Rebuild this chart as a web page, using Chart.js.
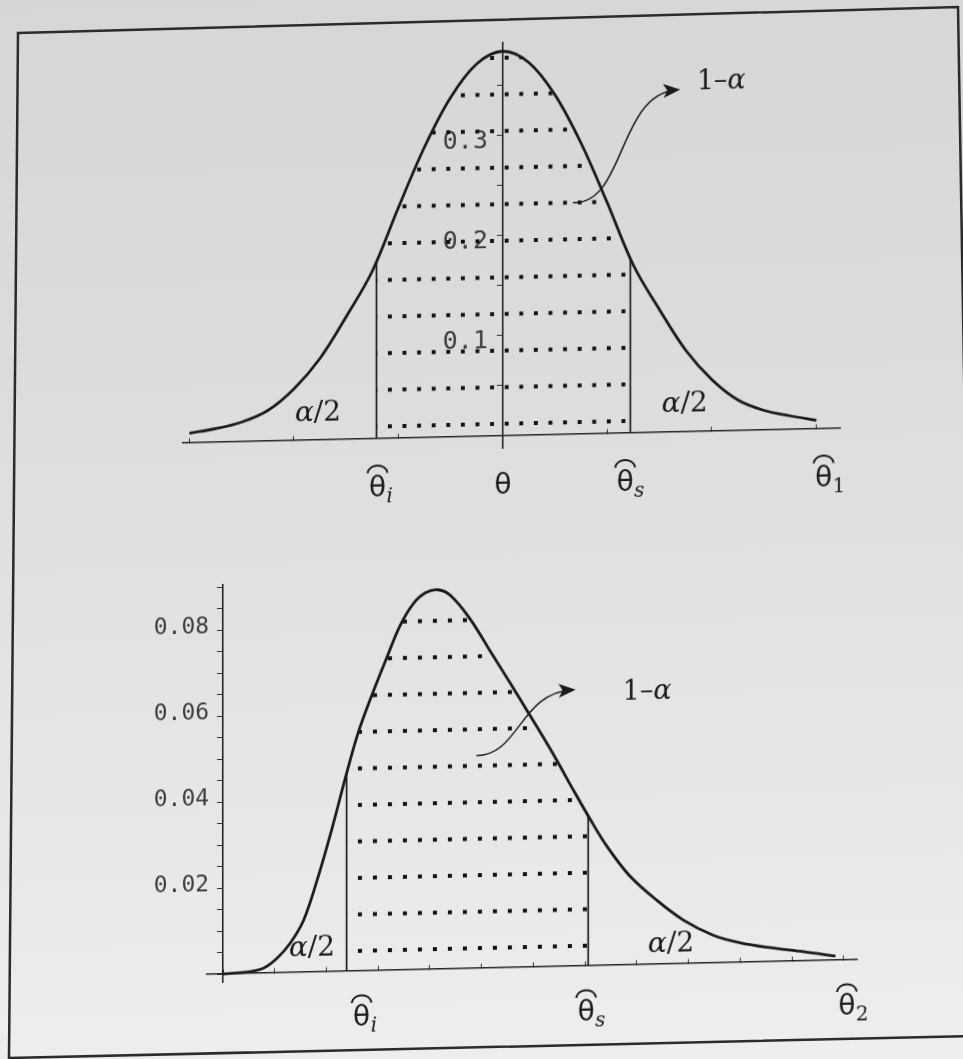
<!DOCTYPE html>
<html>
<head>
<meta charset="utf-8">
<script src="https://cdn.jsdelivr.net/npm/chart.js@4.4.1/dist/chart.umd.min.js"></script>
<style>
  html, body { margin: 0; padding: 0; }
  body {
    width: 963px; height: 1059px; overflow: hidden; position: relative;
    background: linear-gradient(178deg, #d6d6d4 0%, #dcdcda 35%, #e4e4e2 65%, #eeeeec 100%);
  }
  #frame { position: absolute; left: 0; top: 0; }
  .plot { position: absolute; left: 0; top: 0; transform-origin: 0 0; }
  #topPlot { transform: skewY(-1.28deg); }
  #bottomPlot { transform: skewY(-1.3deg); }
</style>
</head>
<body>
<svg id="frame" width="963" height="1059">
  <polygon points="18,33 958,7 975,1036 9,1058" fill="none" stroke="#2b2b2b" stroke-width="2.5"/>
</svg>
<canvas id="topPlot" class="plot" width="963" height="1059"></canvas>
<canvas id="bottomPlot" class="plot" width="963" height="1059"></canvas>
<script>
// upper panel: symmetric density around theta
const topX = [-3, -2.75, -2.5, -2.25, -2, -1.75, -1.5, -1.25, -1, -0.75, -0.5, -0.25, 0,
              0.25, 0.5, 0.75, 1, 1.25, 1.5, 1.75, 2, 2.25, 2.5, 2.75, 3];
const topY = [0.009, 0.013, 0.019, 0.030, 0.051, 0.081, 0.122, 0.167, 0.230, 0.290, 0.339, 0.372, 0.384,
              0.372, 0.339, 0.290, 0.230, 0.167, 0.122, 0.081, 0.051, 0.030, 0.019, 0.013, 0.008];
const topLimits = [-1.21, 1.22];        // theta_i, theta_s
const topLimitTops = [0.176, 0.174];    // where the limit lines meet the curve
const topTicks = [0.1, 0.2, 0.3];
const topNameAt = [-1.2, 0, 1.17, 3.07];

// lower panel: skewed density
const botX = [0, 2.3, 3.9, 5.2, 6.5, 7.8, 9.1, 10.5, 11.95, 13.1, 14.4, 15.8, 17.1, 18.4, 19.6, 20.8,
              22.0, 23.9, 26.1, 27.9, 29.3, 30.9, 32.2, 33.8, 35.5, 37.1, 39.3, 41.9, 44.5, 47.4, 50.0,
              52.9, 56.1, 59.2];
const botY = [0, 0.0003, 0.0011, 0.0033, 0.0068, 0.0121, 0.0213, 0.0329, 0.0460, 0.0556, 0.0641, 0.0725,
              0.0800, 0.0851, 0.0876, 0.0882, 0.0868, 0.0812, 0.0726, 0.0656, 0.0600, 0.0536, 0.0482,
              0.0412, 0.0340, 0.0277, 0.0207, 0.0149, 0.0101, 0.0064, 0.0045, 0.0032, 0.0021, 0.0009];
const botLimits = [11.95, 35.3];
const botLimitTops = [0.046, 0.0348];
const botTicks = [0.02, 0.04, 0.06, 0.08];
const botNameAt = [13.4, 35.1, 60.3];

const ink = '#1b1b1b';

function points(xs, ys) {
    return xs.map((x, i) => ({ x: x, y: ys[i] }));
}

// curve points between the two limits, closed by the limit heights
function region(xs, ys, lim, tops) {
    const pts = [{ x: lim[0], y: tops[0] }];
    xs.forEach((x, i) => {
        if (x > lim[0] && x < lim[1]) pts.push({ x: x, y: ys[i] });
    });
    pts.push({ x: lim[1], y: tops[1] });
    return pts;
}

// dotted fill, one dot per tile
function dots(canvas, w, h, tx, ty) {
    const tile = document.createElement('canvas');
    tile.width = 15; tile.height = 37;
    const g = tile.getContext('2d');
    g.fillStyle = '#111';
    g.fillRect(0, 0, 4, 4);
    const p = canvas.getContext('2d').createPattern(tile, 'repeat');
    p.setTransform(new DOMMatrix().translate(tx, ty).scale(w / 15, h / 37));
    return p;
}

function datasets(xs, ys, lim, tops, pattern) {
    return [
        { data: points(xs, ys), borderColor: ink, borderWidth: 2.8, pointRadius: 0,
          tension: 0.35, fill: false },
        { data: region(xs, ys, lim, tops), borderWidth: 0, pointRadius: 0,
          tension: 0.35, fill: 'origin', backgroundColor: pattern },
        { data: [{ x: lim[0], y: 0 }, { x: lim[0], y: tops[0] }], borderColor: ink, borderWidth: 1.7, pointRadius: 0 },
        { data: [{ x: lim[1], y: 0 }, { x: lim[1], y: tops[1] }], borderColor: ink, borderWidth: 1.7, pointRadius: 0 }
    ];
}

function drawTheta(ctx, cx, by, hat, sub, italic) {
    ctx.textAlign = 'center';
    ctx.textBaseline = 'alphabetic';
    ctx.font = '28px "DejaVu Sans"';
    ctx.fillText('θ', cx, by);
    if (hat) {
        ctx.lineWidth = 2;
        ctx.beginPath();
        ctx.moveTo(cx - 10, by - 23);
        ctx.bezierCurveTo(cx - 8, by - 33, cx + 8, by - 33, cx + 10, by - 23);
        ctx.stroke();
    }
    if (sub) {
        ctx.textAlign = 'left';
        ctx.font = (italic ? 'italic ' : '') + '20px "DejaVu Serif"';
        ctx.fillText(sub, cx + 9, by + 6);
    }
}

function drawMixed(ctx, cx, cy, parts) {
    ctx.textBaseline = 'middle';
    ctx.textAlign = 'left';
    let w = 0;
    parts.forEach(p => { ctx.font = p[1]; w += ctx.measureText(p[0]).width; });
    let left = cx - w / 2;
    parts.forEach(p => {
        ctx.font = p[1];
        ctx.fillText(p[0], left, cy);
        left += ctx.measureText(p[0]).width;
    });
}

const upright = '28px "DejaVu Serif"';
const slanted = 'italic 28px "DejaVu Serif"';

const marks = {
    id: 'marks',
    afterDatasetsDraw(chart, args, opts) {
        const { ctx } = chart;
        const sx = chart.scales.x, sy = chart.scales.y;
        ctx.save();
        ctx.fillStyle = ink;
        ctx.strokeStyle = ink;

        const by = sy.getPixelForValue(0) + opts.nameDrop;
        opts.names.forEach(n => drawTheta(ctx, sx.getPixelForValue(n.at), by, n.hat, n.sub, n.italic));

        opts.halves.forEach(a => {
            drawMixed(ctx, sx.getPixelForValue(a[0]), sy.getPixelForValue(a[1]),
                      [['α', slanted], ['/2', upright]]);
        });
        drawMixed(ctx, sx.getPixelForValue(opts.level[0]), sy.getPixelForValue(opts.level[1]),
                  [['1–', '27px "DejaVu Serif"'], ['α', 'italic 27px "DejaVu Serif"']]);

        // curved arrow from the dotted area to the 1-alpha label
        const p = opts.arrow.map(q => [sx.getPixelForValue(q[0]), sy.getPixelForValue(q[1])]);
        ctx.lineWidth = 1.5;
        ctx.beginPath();
        ctx.moveTo(p[0][0], p[0][1]);
        ctx.bezierCurveTo(p[1][0], p[1][1], p[2][0], p[2][1], p[3][0], p[3][1]);
        ctx.stroke();
        const ang = Math.atan2(p[3][1] - p[2][1], p[3][0] - p[2][0]);
        ctx.translate(p[3][0], p[3][1]);
        ctx.rotate(ang);
        ctx.beginPath();
        ctx.moveTo(4, 0);
        ctx.lineTo(-13, -7);
        ctx.lineTo(-9, 0);
        ctx.lineTo(-13, 7);
        ctx.closePath();
        ctx.fill();
        ctx.restore();
    }
};

function makeChart(id, cfg) {
    const canvas = document.getElementById(id);
    return new Chart(canvas, {
        type: 'line',
        data: { datasets: datasets(cfg.xs, cfg.ys, cfg.lim, cfg.tops, cfg.pattern(canvas)) },
        plugins: [marks],
        options: {
            responsive: false,
            animation: false,
            events: [],
            layout: { padding: cfg.padding },
            plugins: {
                legend: { display: false },
                tooltip: { enabled: false },
                marks: cfg.marks
            },
            scales: {
                x: {
                    type: 'linear', min: cfg.xMin, max: cfg.xMax,
                    position: { y: 0 },
                    afterFit: s => { s.height = 0; },
                    border: { color: '#262626', width: 1.6 },
                    grid: { drawOnChartArea: false, tickLength: -5, color: '#333', lineWidth: 1 },
                    ticks: { display: false, stepSize: cfg.xStep, includeBounds: false }
                },
                y: {
                    type: 'linear', min: cfg.yMin, max: cfg.yMax,
                    position: { x: 0 },
                    afterFit: s => { s.width = 0; },
                    border: { color: '#262626', width: 1.6 },
                    grid: { drawOnChartArea: false, tickLength: 5, color: '#333', lineWidth: 1 },
                    ticks: {
                        stepSize: cfg.yStep, includeBounds: false, autoSkip: false,
                        labelOffset: cfg.labelOffset,
                        color: '#3e3e3e',
                        font: { family: '"DejaVu Sans Mono"', size: cfg.tickSize },
                        callback: v => {
                            const t = cfg.ticks.find(t => Math.abs(t - v) < 1e-6);
                            return t === undefined ? '' : t.toFixed(cfg.digits) + ' ';
                        }
                    }
                }
            }
        }
    });
}

makeChart('topPlot', {
    xs: topX, ys: topY, lim: topLimits, tops: topLimitTops, ticks: topTicks, digits: 1,
    pattern: c => dots(c, 14.6, 36.6, 388, 433),
    padding: { left: 183, right: 123, top: 54, bottom: 600 },
    xMin: -3.062, xMax: 3.225, xStep: 1,
    yMin: -0.0125, yMax: 0.3925, yStep: 0.05,
    labelOffset: 6, tickSize: 25,
    marks: {
        nameDrop: 58,
        names: [
            { at: topNameAt[0], hat: true, sub: 'i', italic: true },
            { at: topNameAt[1], hat: false },
            { at: topNameAt[2], hat: true, sub: 's', italic: true },
            { at: topNameAt[3], hat: true, sub: '1', italic: false }
        ],
        halves: [[-1.77, 0.0255], [1.74, 0.027]],
        level: [2.09, 0.349],
        arrow: [[0.67, 0.231], [1.17, 0.2275], [1.10, 0.338], [1.66, 0.3415]]
    }
});

makeChart('bottomPlot', {
    xs: botX, ys: botY, lim: botLimits, tops: botLimitTops, ticks: botTicks, digits: 2,
    pattern: c => dots(c, 15, 36.48, 358, 957),
    padding: { left: 207, right: 106, top: 590, bottom: 72 },
    xMin: -1.546, xMax: 61.26, xStep: 5,
    yMin: -0.00186, yMax: 0.09047, yStep: 0.005,
    labelOffset: -3, tickSize: 23,
    marks: {
        nameDrop: 55,
        names: [
            { at: botNameAt[0], hat: true, sub: 'i', italic: true },
            { at: botNameAt[1], hat: true, sub: 's', italic: true },
            { at: botNameAt[2], hat: true, sub: '2', italic: false }
        ],
        halves: [[8.6, 0.0054], [43.3, 0.0046]],
        level: [41.0, 0.0632],
        arrow: [[24.5, 0.0494], [28.7, 0.0494], [28.7, 0.0638], [33.7, 0.0642]]
    }
});
</script>
</body>
</html>
